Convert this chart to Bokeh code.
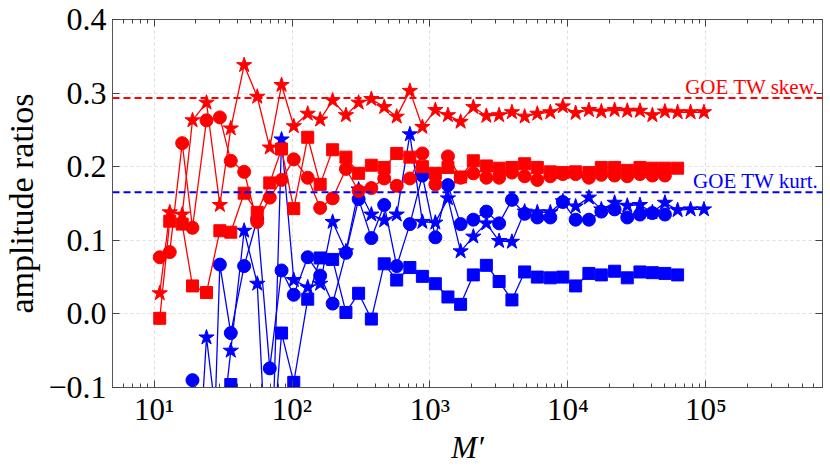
import math
from bokeh.plotting import figure
from bokeh.models import (LogAxis, LinearAxis, LogTicker, FixedTicker, Span, Label,
                          CustomJSTickFormatter, Range1d)
from bokeh.embed import file_html
from bokeh.resources import INLINE

NAN = float("nan")

# M' values (x)
M = [11, 13, 16, 19, 24, 30, 36, 45, 56, 69, 84, 103, 130, 160, 197, 246, 304, 376,
     466, 574, 715, 881, 1094, 1350, 1668, 2062, 2563, 3171, 3927, 4856, 6000, 7452,
     9183, 11370, 14190, 17460, 21790, 26920, 33260, 40920, 50470, 62370, 77450, 96830]

red_star = [0.028, 0.138, 0.135, 0.263, 0.287, 0.148, 0.252, 0.338, 0.295, 0.226, 0.311,
            0.255, 0.272, 0.264, 0.290, 0.270, 0.287, 0.292, 0.281, 0.268, 0.303, 0.254,
            0.277, 0.270, 0.261, 0.281, 0.269, 0.270, 0.274, 0.268, 0.272, 0.274, 0.282,
            0.273, 0.277, 0.275, 0.277, 0.276, 0.276, 0.270, 0.275, 0.274, 0.274, 0.274]
red_circle = [0.077, 0.084, 0.232, 0.117, 0.263, 0.267, 0.208, 0.193, 0.125, 0.158, 0.182,
              0.210, 0.185, 0.144, 0.157, 0.197, 0.167, 0.171, 0.184, 0.174, 0.184, 0.218,
              0.176, 0.214, 0.185, 0.191, 0.185, 0.185, 0.192, 0.187, 0.182, 0.187, 0.190,
              0.190, 0.185, 0.189, 0.188, 0.187, 0.190, 0.188, 0.188]
red_square = [-0.006, 0.126, 0.122, 0.038, 0.029, 0.113, 0.111, 0.164, 0.138, 0.178, 0.224,
              0.143, 0.240, 0.176, 0.223, 0.213, 0.191, 0.202, 0.199, 0.218, 0.213, 0.200,
              0.191, 0.199, 0.186, 0.208, 0.201, 0.198, 0.199, 0.204, 0.199, 0.193, 0.192,
              0.193, 0.192, 0.199, 0.199, 0.195, 0.199, 0.198, 0.198, 0.198]
blue_circle = [NAN, NAN, NAN, -0.090, -0.49, 0.067, -0.026, 0.065, 0.129, -0.074, 0.059,
               0.026, 0.077, 0.052, 0.014, 0.083, 0.156, 0.103, 0.148, 0.065, 0.122, 0.188,
               0.104, 0.175, 0.122, 0.128, 0.139, 0.123, 0.155, 0.136, 0.131, 0.131, 0.152,
               0.128, 0.128, 0.139, 0.142, 0.131, 0.135, 0.137, 0.135]
blue_star = [NAN, NAN, NAN, -0.35, -0.032, -0.183, -0.050, 0.113, 0.041, -0.30, 0.237,
             0.046, 0.036, 0.041, 0.125, 0.085, 0.169, 0.135, 0.127, 0.135, 0.244, 0.125,
             0.124, 0.157, 0.085, 0.105, 0.123, 0.099, 0.098, 0.139, 0.138, 0.138, 0.153,
             0.146, 0.158, 0.142, 0.151, 0.147, 0.148, 0.138, 0.151, 0.141, 0.142, 0.142]
blue_square = [NAN, NAN, NAN, NAN, NAN, -0.45, -0.096, -0.35, -0.35, -0.23, -0.026,
               -0.093, 0.020, 0.076, 0.074, 0.002, 0.028, -0.007, 0.068, 0.046, 0.063, 0.051,
               0.041, 0.023, 0.013, 0.053, 0.066, 0.044, 0.019, 0.057, 0.050, 0.049, 0.050,
               0.038, 0.055, 0.053, 0.058, 0.049, 0.057, 0.056, 0.055, 0.053]

GOE_SKEW = 0.2935
GOE_KURT = 0.1652
y_ticks = [-0.1, 0.0, 0.1, 0.2, 0.3, 0.4]
X_MIN, X_MAX = 5, 7.0e5
Y_MIN, Y_MAX = -0.1, 0.4

FONT = "Liberation Serif"
RED = "#ff0000"
BLUE = "#0000ff"

p = figure(width=830, height=467, x_axis_type="log",
           x_range=Range1d(X_MIN, X_MAX), y_range=Range1d(Y_MIN, Y_MAX),
           output_backend="svg", toolbar_location=None,
           min_border_left=112, min_border_right=8, min_border_top=19,
           min_border_bottom=76)
p.outline_line_color = "#555555"
p.outline_line_width = 1
p.background_fill_color = "white"
p.border_fill_color = "white"

sup_code = """
const sup = {'0':'\u2070','1':'\u00b9','2':'\u00b2','3':'\u00b3','4':'\u2074','5':'\u2075','6':'\u2076','7':'\u2077','8':'\u2078','9':'\u2079','-':'\u207b'};
const e = Math.round(Math.log10(tick));
return '10' + String(e).split('').map(c => sup[c]).join('');
"""
yfmt = """
if (Math.abs(tick) < 1e-9) return '0.0';
return tick.toFixed(1).replace('-', '\u2212');
"""

def style(ax, labels=True):
    ax.axis_line_color = "#555555"
    ax.major_tick_in = 7
    ax.major_tick_out = 0
    ax.minor_tick_in = 4
    ax.minor_tick_out = 0
    ax.major_tick_line_color = "#444444"
    ax.minor_tick_line_color = "#444444"
    ax.major_label_text_font = FONT
    ax.major_label_text_color = "#000000"
    ax.axis_label_text_font = FONT
    ax.axis_label_text_color = "#000000"
    if labels:
        ax.major_label_text_font_size = "32px"
        ax.major_label_standoff = 6
    else:
        ax.major_label_text_font_size = "1px"
        ax.major_label_standoff = 0

xa = p.xaxis[0]
xa.ticker = LogTicker(num_minor_ticks=10)
xa.formatter = CustomJSTickFormatter(code=sup_code)
style(xa)
xa.major_label_text_font_size = "31px"
xa.major_label_standoff = 4
xa.axis_label = "M\u2032"
xa.axis_label_text_font_style = "italic"
xa.axis_label_text_font_size = "31px"
xa.axis_label_standoff = 0

ya = p.yaxis[0]
ya.ticker = FixedTicker(ticks=y_ticks, minor_ticks=[])
ya.formatter = CustomJSTickFormatter(code=yfmt)
style(ya)
ya.axis_label = "amplitude ratios"
ya.axis_label_text_font_style = "normal"
ya.axis_label_text_font_size = "34px"
ya.axis_label_standoff = 5

top = LogAxis(ticker=LogTicker(num_minor_ticks=10),
              formatter=CustomJSTickFormatter(code="return '';"))
style(top, labels=False)
p.add_layout(top, "above")
right = LinearAxis(ticker=FixedTicker(ticks=y_ticks, minor_ticks=[]),
                   formatter=CustomJSTickFormatter(code="return '';"))
style(right, labels=False)
p.add_layout(right, "right")

for g in (p.xgrid[0], p.ygrid[0]):
    g.grid_line_color = "#dddddd"
    g.grid_line_dash = "3 3"
    g.grid_line_width = 1

p.add_layout(Span(location=GOE_SKEW, dimension="width", line_color=RED,
                  line_dash="7 4", line_width=2))
p.add_layout(Span(location=GOE_KURT, dimension="width", line_color=BLUE,
                  line_dash="7 4", line_width=2))

def series(ys, color, marker, size):
    xs = M[:len(ys)]
    p.line(xs, ys, line_color=color, line_width=1.3)
    p.scatter(xs, ys, marker=marker, size=size, fill_color=color, line_color=color)

series(blue_square, BLUE, "square", 12)
series(blue_circle, BLUE, "circle", 13)
series(blue_star, BLUE, "star", 16)
series(red_square, RED, "square", 12)
series(red_circle, RED, "circle", 13)
series(red_star, RED, "star", 16)

p.add_layout(Label(x=X_MAX, y=GOE_SKEW, x_offset=-4, y_offset=11, text="GOE TW skew.",
                   text_align="right", text_baseline="alphabetic", text_color=RED,
                   text_font=FONT, text_font_size="21px"))
p.add_layout(Label(x=X_MAX, y=GOE_KURT, x_offset=-4, y_offset=11, text="GOE TW kurt.",
                   text_align="right", text_baseline="alphabetic", text_color=BLUE,
                   text_font=FONT, text_font_size="21px"))

open("out.html", "w").write(file_html(p, INLINE))
